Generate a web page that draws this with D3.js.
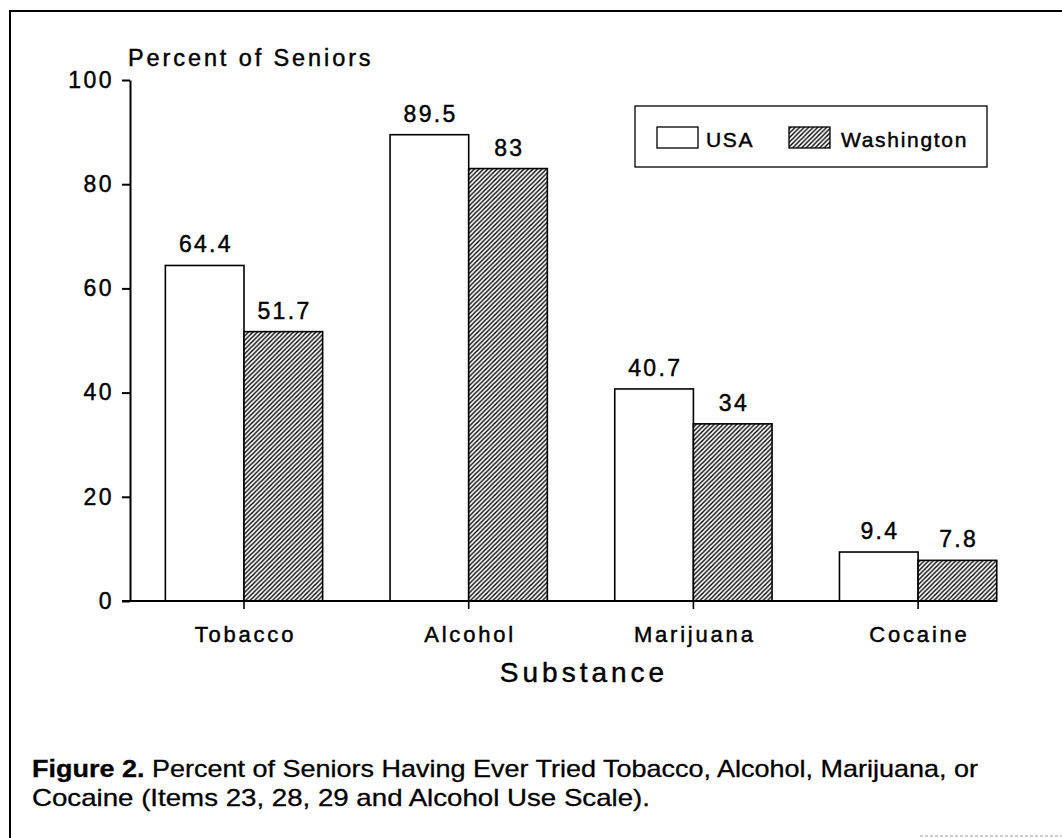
<!DOCTYPE html>
<html>
<head>
<meta charset="utf-8">
<script src="https://cdn.jsdelivr.net/npm/d3@7"></script>
<style>
  html, body { margin: 0; padding: 0; background: #fff; }
  svg { display: block; }
  text { font-family: "Liberation Sans", Arial, Helvetica, sans-serif; fill: #000; stroke: #000; stroke-width: 0.45px; }
</style>
</head>
<body>
<svg id="chart" width="1062" height="838"></svg>
<script>
const categories = ["Tobacco", "Alcohol", "Marijuana", "Cocaine"];
const seriesNames = ["USA", "Washington"];
const usaValues = [64.4, 89.5, 40.7, 9.4];
const washingtonValues = [51.7, 83, 34, 7.8];
const valueLabels = [["64.4", "89.5", "40.7", "9.4"], ["51.7", "83", "34", "7.8"]];
const yTicks = [0, 20, 40, 60, 80, 100];
const yTitle = "Percent of Seniors";
const xTitle = "Substance";
const captionBold = "Figure 2.";
const captionLine1 = "  Percent of Seniors Having Ever Tried Tobacco, Alcohol, Marijuana, or";
const captionLine2 = "Cocaine (Items 23, 28, 29 and Alcohol Use Scale).";

const svg = d3.select("#chart");

// frame (top & left visible, faint bottom piece)
svg.append("path").attr("d", "M10,838 L10,11 L1062,11")
  .attr("fill", "none").attr("stroke", "#000").attr("stroke-width", 2);
svg.append("line").attr("x1", 920).attr("x2", 1062).attr("y1", 836).attr("y2", 836)
  .attr("stroke", "#999").attr("stroke-width", 1).attr("stroke-dasharray", "3,2");

// hatch pattern
const defs = svg.append("defs");
const pat = defs.append("pattern").attr("id", "hatch").attr("patternUnits", "userSpaceOnUse")
  .attr("width", 4.5).attr("height", 4.5);
pat.append("rect").attr("width", 4.5).attr("height", 4.5).attr("fill", "#fff");
pat.append("path").attr("d", "M-1,1 l2,-2 M0,4.5 l4.5,-4.5 M3.5,5.5 l2,-2")
  .attr("stroke", "#000").attr("stroke-width", 1.4);

// scales
const y = d3.scaleLinear().domain([0, 100]).range([601, 80]);
const x0 = d3.scaleBand().domain(categories).range([131.65, 1030.45]).paddingInner(0.3).paddingOuter(0.15);
const x1 = d3.scaleBand().domain(seriesNames).range([0, x0.bandwidth()]);

const series = [usaValues, washingtonValues];
const fills = ["#fff", "url(#hatch)"];

// bars
series.forEach((vals, si) => {
  svg.append("g").selectAll("rect").data(vals).join("rect")
    .attr("x", (d, i) => x0(categories[i]) + x1(seriesNames[si]))
    .attr("y", d => y(d))
    .attr("width", x1.bandwidth())
    .attr("height", d => y(0) - y(d))
    .attr("fill", fills[si])
    .attr("stroke", "#000").attr("stroke-width", 1.6);
  svg.append("g").selectAll("text").data(vals).join("text")
    .attr("x", (d, i) => x0(categories[i]) + x1(seriesNames[si]) + x1.bandwidth() / 2 + 1.2)
    .attr("y", d => y(d) - 13)
    .attr("text-anchor", "middle")
    .style("font-size", "23px").style("letter-spacing", "2.3px")
    .text((d, i) => valueLabels[si][i]);
});

// y axis
const yAxis = svg.append("g").attr("transform", "translate(130,0)")
  .call(d3.axisLeft(y).tickValues(yTicks).tickSize(8).tickPadding(8).tickSizeOuter(0));
yAxis.select(".domain").attr("stroke-width", 2);
yAxis.selectAll(".tick line").attr("stroke-width", 2);
yAxis.selectAll(".tick text").style("font-size", "23px").style("letter-spacing", "2.5px")
  .style("font-family", "'Liberation Sans', Arial, sans-serif").attr("fill", "#000");

// x axis
const lastRight = x0(categories[categories.length - 1]) + x0.bandwidth();
svg.append("line").attr("x1", 122).attr("x2", lastRight).attr("y1", y(0)).attr("y2", y(0))
  .attr("stroke", "#000").attr("stroke-width", 2);
const xAxis = svg.append("g").attr("transform", `translate(0,${y(0)})`);
xAxis.call(d3.axisBottom(x0).tickSize(8).tickFormat(""));
xAxis.select(".domain").remove();
xAxis.selectAll(".tick line").attr("stroke-width", 1.6);

svg.append("g").selectAll("text").data(categories).join("text")
  .attr("x", d => x0(d) + x0.bandwidth() / 2 + 1.4)
  .attr("y", 642)
  .attr("text-anchor", "middle")
  .style("font-size", "22px").style("letter-spacing", "2.8px")
  .text(d => d);

// titles
svg.append("text").attr("x", 128).attr("y", 66)
  .style("font-size", "23.5px").style("letter-spacing", "2.9px").text(yTitle);
svg.append("text").attr("x", 584).attr("y", 682).attr("text-anchor", "middle")
  .style("font-size", "28px").style("letter-spacing", "4px").text(xTitle);

// legend
const lg = svg.append("g");
lg.append("rect").attr("x", 635).attr("y", 106).attr("width", 352).attr("height", 61)
  .attr("fill", "none").attr("stroke", "#000").attr("stroke-width", 1.3);
const legendItems = [
  { name: seriesNames[0], fill: fills[0], sx: 657, tx: 706 },
  { name: seriesNames[1], fill: fills[1], sx: 789, tx: 841 }
];
legendItems.forEach(it => {
  lg.append("rect").attr("x", it.sx).attr("y", 127).attr("width", 41).attr("height", 21)
    .attr("fill", it.fill).attr("stroke", "#000").attr("stroke-width", 1.3);
  lg.append("text").attr("x", it.tx).attr("y", 147)
    .style("font-size", "21px").style("letter-spacing", "1.7px").text(it.name);
});

// caption
const cap1 = svg.append("text").attr("x", 32).attr("y", 777)
  .attr("textLength", 946).attr("lengthAdjust", "spacingAndGlyphs")
  .style("font-size", "24px").style("stroke-width", "0.3px");
cap1.append("tspan").style("font-weight", "bold").text(captionBold);
cap1.append("tspan").text(captionLine1);
svg.append("text").attr("x", 32).attr("y", 806)
  .attr("textLength", 618).attr("lengthAdjust", "spacingAndGlyphs")
  .style("font-size", "24px").style("stroke-width", "0.3px").text(captionLine2);
</script>
</body>
</html>
